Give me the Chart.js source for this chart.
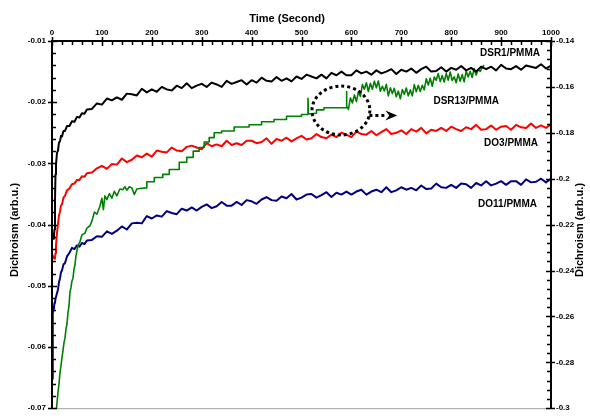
<!DOCTYPE html>
<html>
<head>
<meta charset="utf-8">
<script src="https://cdn.jsdelivr.net/npm/chart.js@4"></script>
<style>body{margin:0;background:#fff}</style>
</head>
<body>
<canvas id="chart" width="590" height="419"></canvas>
<script>
// time (s) shared by DSR1, DO3 and DO11
var seconds = [0, 1, 2, 3, 4, 5, 6, 7, 8, 10, 12, 14, 16, 18, 20, 23, 26, 30, 35, 40, 45, 50, 55, 60, 65, 70, 80, 90,
  100, 110, 120, 130, 140, 150, 160, 170, 180, 190, 200, 210, 220, 230, 240, 250, 260, 270, 280, 290,
  300, 310, 320, 330, 340, 350, 360, 370, 380, 390, 400, 410, 420, 430, 440, 450, 460, 470, 480, 490,
  500, 510, 520, 530, 540, 550, 560, 570, 580, 590, 600, 610, 620, 630, 640, 650, 660, 670, 680, 690,
  700, 710, 720, 730, 740, 750, 760, 770, 780, 790, 800, 810, 820, 830, 840, 850, 860, 870, 880, 890,
  900, 910, 920, 930, 940, 950, 960, 970, 980, 990, 1000];

// left axis
var dsr1 = [-0.0415, -0.0421, -0.0418, -0.0423, -0.0417, -0.0408, -0.0360, -0.0318, -0.0302, -0.0283, -0.0279, -0.0266, -0.0264, -0.0255,
  -0.0256, -0.0247, -0.0247, -0.0239, -0.0239, -0.0231, -0.0232, -0.0224, -0.0225, -0.0218, -0.0219, -0.0212, -0.0211, -0.0202,
  -0.0204, -0.0194, -0.0197, -0.0192, -0.0196, -0.0186, -0.0187, -0.0189, -0.0178, -0.0184,
  -0.0179, -0.0183, -0.0175, -0.0179, -0.0181, -0.0173, -0.0177, -0.0169, -0.0177, -0.0173,
  -0.0170, -0.0175, -0.0168, -0.0171, -0.0175, -0.0165, -0.0170, -0.0167, -0.0164, -0.0171,
  -0.0164, -0.0168, -0.0160, -0.0165, -0.0166, -0.0159, -0.0165, -0.0161, -0.0166, -0.0158,
  -0.0162, -0.0155, -0.0158, -0.0161, -0.0155, -0.0161, -0.0152, -0.0156, -0.0150, -0.0156,
  -0.0156, -0.0148, -0.0153, -0.0150, -0.0155, -0.0148, -0.0153, -0.0150, -0.0146, -0.0154,
  -0.0147, -0.0150, -0.0145, -0.0152, -0.0146, -0.0142, -0.0150, -0.0149, -0.0143, -0.0150,
  -0.0144, -0.0147, -0.0141, -0.0148, -0.0144, -0.0150, -0.0142, -0.0146, -0.0142, -0.0148,
  -0.0139, -0.0145, -0.0146, -0.0141, -0.0147, -0.0140, -0.0142, -0.0144, -0.0138, -0.0145, -0.0140];

var do3 = [-0.0450, -0.0452, -0.0451, -0.0454, -0.0453, -0.0456, -0.0455, -0.0447, -0.0434, -0.0414, -0.0399, -0.0385, -0.0379, -0.0369,
  -0.0367, -0.0356, -0.0353, -0.0344, -0.0341, -0.0334, -0.0333, -0.0327, -0.0327, -0.0321, -0.0322, -0.0316, -0.0315, -0.0308,
  -0.0304, -0.0309, -0.0301, -0.0302, -0.0292, -0.0298, -0.0294, -0.0287, -0.0290, -0.0284,
  -0.0289, -0.0279, -0.0281, -0.0282, -0.0274, -0.0279, -0.0280, -0.0273, -0.0271, -0.0274,
  -0.0277, -0.0267, -0.0272, -0.0269, -0.0272, -0.0263, -0.0270, -0.0267, -0.0270, -0.0263,
  -0.0263, -0.0267, -0.0265, -0.0259, -0.0268, -0.0260, -0.0263, -0.0258, -0.0264, -0.0259,
  -0.0255, -0.0261, -0.0259, -0.0252, -0.0257, -0.0259, -0.0253, -0.0257, -0.0250, -0.0253,
  -0.0257, -0.0248, -0.0252, -0.0253, -0.0247, -0.0254, -0.0249, -0.0244, -0.0252, -0.0250,
  -0.0246, -0.0252, -0.0244, -0.0248, -0.0242, -0.0251, -0.0245, -0.0247, -0.0242, -0.0247,
  -0.0240, -0.0244, -0.0247, -0.0241, -0.0244, -0.0237, -0.0245, -0.0244, -0.0238, -0.0245,
  -0.0240, -0.0239, -0.0245, -0.0237, -0.0241, -0.0242, -0.0235, -0.0242, -0.0238, -0.0242, -0.0236];

var do11 = [-0.0652, -0.0598, -0.0546, -0.0537, -0.0535, -0.0528, -0.0527, -0.0521, -0.0521, -0.0512, -0.0506, -0.0494, -0.0488, -0.0478,
  -0.0475, -0.0465, -0.0463, -0.0452, -0.0446, -0.0438, -0.0440, -0.0434, -0.0436, -0.0430, -0.0432, -0.0426, -0.0425, -0.0419,
  -0.0420, -0.0411, -0.0415, -0.0410, -0.0403, -0.0408, -0.0398, -0.0397, -0.0398, -0.0386,
  -0.0390, -0.0385, -0.0387, -0.0378, -0.0381, -0.0383, -0.0374, -0.0377, -0.0372, -0.0377,
  -0.0371, -0.0367, -0.0373, -0.0370, -0.0363, -0.0369, -0.0369, -0.0363, -0.0368, -0.0360,
  -0.0362, -0.0366, -0.0359, -0.0355, -0.0360, -0.0361, -0.0354, -0.0357, -0.0350, -0.0359,
  -0.0356, -0.0351, -0.0350, -0.0356, -0.0352, -0.0347, -0.0355, -0.0348, -0.0351, -0.0346,
  -0.0351, -0.0346, -0.0343, -0.0351, -0.0346, -0.0343, -0.0347, -0.0339, -0.0347, -0.0344,
  -0.0339, -0.0343, -0.0340, -0.0344, -0.0336, -0.0342, -0.0341, -0.0333, -0.0339, -0.0340,
  -0.0335, -0.0340, -0.0333, -0.0334, -0.0340, -0.0332, -0.0336, -0.0329, -0.0336, -0.0333,
  -0.0329, -0.0335, -0.0329, -0.0329, -0.0335, -0.0326, -0.0331, -0.0330, -0.0325, -0.0331, -0.0325];

// right axis
var dsr13Time = [9, 12, 14, 16, 18, 20, 22, 24, 26, 28, 30, 32, 34, 36, 38, 40, 42, 44, 46, 48, 50, 52, 56, 60, 66, 70, 76, 80, 85, 90, 96,
  100, 103, 106, 110, 115, 120, 125, 130, 136, 142, 146, 150, 155, 160, 165, 170, 176, 190,
  190, 205, 205, 222, 222, 235, 235, 255, 255, 270, 270, 283, 283, 295, 295, 305, 305, 315, 315, 325, 325, 340,
  340, 365, 365, 395, 395, 420, 420, 445, 445, 470, 470, 500, 500, 513, 513, 514, 530, 530, 545, 545, 590, 590, 591,
  594, 598, 602, 606, 610, 614, 618, 622, 626, 630, 634, 638, 642, 646, 650, 654, 658, 662, 666, 670,
  674, 678, 682, 686, 690, 694, 698, 702, 706, 710, 714, 718, 722, 726, 730, 734, 738, 742, 746, 750,
  754, 758, 762, 766, 770, 774, 778, 782, 786, 790, 794, 798, 802, 806, 810, 814, 818, 822, 826, 830,
  834, 838, 842, 846, 850, 854, 858, 862, 866];

var dsr13 = [-0.300, -0.293, -0.2895, -0.2845, -0.2815, -0.278, -0.2749, -0.2715, -0.2695, -0.2655, -0.2632, -0.2585, -0.2555,
  -0.2493, -0.2475, -0.2445, -0.2435, -0.2395, -0.2376, -0.2335, -0.2315, -0.2291, -0.2275, -0.2245, -0.2237, -0.2215, -0.2205,
  -0.2185, -0.2145, -0.2155, -0.212,
  -0.2085, -0.2135, -0.2075, -0.2091, -0.2065, -0.2085, -0.2055, -0.2075, -0.2045, -0.2048, -0.2035, -0.2050, -0.2035, -0.2040,
  -0.2069, -0.2045, -0.2043, -0.2040,
  -0.2013, -0.2013, -0.1995, -0.1995, -0.1981, -0.1981, -0.1960, -0.1960, -0.1928, -0.1928, -0.1907, -0.1907, -0.1880, -0.1880,
  -0.1864, -0.1864, -0.1840, -0.1840, -0.1821, -0.1821, -0.1800, -0.1800,
  -0.1792, -0.1792, -0.1775, -0.1775, -0.1765, -0.1765, -0.1752, -0.1752, -0.1742, -0.1742, -0.1728, -0.1728, -0.1720, -0.1720,
  -0.1650, -0.1718, -0.1715, -0.1700, -0.1700, -0.1691, -0.1691, -0.1620, -0.1685,
  -0.1698, -0.1648, -0.1670, -0.1635, -0.1664, -0.1622, -0.1642, -0.1590, -0.1610, -0.1582, -0.1620, -0.1584, -0.1610, -0.1575,
  -0.1604, -0.1574, -0.1619, -0.1597, -0.1618, -0.1589,
  -0.1639, -0.1604, -0.1629, -0.1606, -0.1643, -0.1618, -0.1652, -0.1612, -0.1632, -0.1605, -0.1639, -0.1613, -0.1639, -0.1590,
  -0.1621, -0.1593, -0.1620, -0.1593, -0.1613, -0.1565,
  -0.1592, -0.1562, -0.1597, -0.1557, -0.1571, -0.1542, -0.1577, -0.1550, -0.1579, -0.1542, -0.1571, -0.1535, -0.1572, -0.1556,
  -0.1582, -0.1544, -0.1575, -0.1546, -0.1578, -0.1531,
  -0.1557, -0.1532, -0.1559, -0.1520, -0.1548, -0.1524, -0.1533, -0.1516, -0.1505];

function points(xs, ys) {
  return xs.map(function (t, i) { return { x: t, y: ys[i] }; });
}

var boldFont = '"Liberation Sans", Arial, sans-serif';

// axes, ticks, titles, labels and the dotted mark
var framePlugin = {
  id: "frame",
  afterDatasetsDraw: function (chart) {
    var ctx = chart.ctx;
    var x = chart.scales.x, y = chart.scales.y;
    ctx.save();

    // dotted ellipse + arrow
    var cx = x.getPixelForValue(579), cy = y.getPixelForValue(-0.02136);
    var rx = x.getPixelForValue(637) - cx, ry = y.getPixelForValue(-0.02536) - cy;
    ctx.strokeStyle = "#000";
    ctx.lineWidth = 3;
    ctx.setLineDash([3, 3]);
    ctx.beginPath();
    ctx.ellipse(cx, cy, rx, ry, 0, 0, Math.PI * 2);
    ctx.stroke();
    var ay = y.getPixelForValue(-0.02216);
    var ax0 = x.getPixelForValue(636), ax1 = x.getPixelForValue(670);
    ctx.beginPath();
    ctx.moveTo(ax0, ay);
    ctx.lineTo(ax1, ay);
    ctx.stroke();
    ctx.setLineDash([]);
    var tip = x.getPixelForValue(692);
    ctx.fillStyle = "#000";
    ctx.beginPath();
    ctx.moveTo(ax1 - 1, ay - 5);
    ctx.lineTo(tip, ay);
    ctx.lineTo(ax1 - 1, ay + 5);
    ctx.lineTo(ax1 + 3, ay);
    ctx.closePath();
    ctx.fill();
    ctx.restore();
  },
  afterDraw: function (chart) {
    var ctx = chart.ctx;
    var a = chart.chartArea;
    var x = chart.scales.x, y = chart.scales.y, y1 = chart.scales.y1;
    ctx.save();

    ctx.strokeStyle = "#a0a0a0";
    ctx.lineWidth = 1;
    ctx.beginPath();
    ctx.moveTo(a.left, a.bottom + 0.5);
    ctx.lineTo(a.right, a.bottom + 0.5);
    ctx.stroke();

    ctx.strokeStyle = "#000";
    ctx.lineWidth = 2;
    ctx.beginPath();
    ctx.moveTo(a.left, a.bottom);
    ctx.lineTo(a.left, a.top);
    ctx.lineTo(a.right, a.top);
    ctx.lineTo(a.right, a.bottom);
    ctx.stroke();

    ctx.lineWidth = 1.5;
    ctx.beginPath();
    var i, p;
    for (i = 0; i <= 50; i++) {
      p = Math.round(x.getPixelForValue(i * 20)) + 0.5;
      ctx.moveTo(p, a.top + (i % 5 === 0 ? -4 : 0));
      ctx.lineTo(p, a.top + (i % 5 === 0 ? 5 : 4));
    }
    for (i = 0; i <= 30; i++) {
      p = Math.round(y.getPixelForValue(-0.07 + i * 0.002)) + 0.5;
      ctx.moveTo(a.left + (i % 5 === 0 ? -4 : 0), p);
      ctx.lineTo(a.left + (i % 5 === 0 ? 5 : 4), p);
    }
    for (i = 0; i <= 40; i++) {
      p = Math.round(y1.getPixelForValue(-0.3 + i * 0.004)) + 0.5;
      ctx.moveTo(a.right + (i % 5 === 0 ? 4 : 0), p);
      ctx.lineTo(a.right - (i % 5 === 0 ? 5 : 4), p);
    }
    ctx.stroke();

    ctx.fillStyle = "#000";
    ctx.font = "bold 11px " + boldFont;
    ctx.textAlign = "center";
    ctx.textBaseline = "middle";
    ctx.fillText("Time (Second)", 287, 19);
    ctx.save();
    ctx.translate(15, 230);
    ctx.rotate(-Math.PI / 2);
    ctx.fillText("Dichroism (arb.u.)", 0, 0);
    ctx.restore();
    ctx.save();
    ctx.translate(580, 230);
    ctx.rotate(-Math.PI / 2);
    ctx.fillText("Dichroism (arb.u.)", 0, 0);
    ctx.restore();

    ctx.font = "bold 10px " + boldFont;
    ctx.textAlign = "right";
    ctx.fillText("DSR1/PMMA", 540, 53);
    ctx.fillText("DSR13/PMMA", 499, 101);
    ctx.fillText("DO3/PMMA", 538, 143);
    ctx.fillText("DO11/PMMA", 537, 204);
    ctx.restore();
  }
};

var tickFont = { family: boldFont, size: 8, weight: "bold" };

var ctx = document.getElementById("chart").getContext("2d");
var myChart = new Chart(ctx, {
  type: "line",
  data: {
    datasets: [
      { label: "DSR1/PMMA", data: points(seconds, dsr1), borderColor: "#000000", borderWidth: 2, yAxisID: "y" },
      { label: "DSR13/PMMA", data: points(dsr13Time, dsr13), borderColor: "#008000", borderWidth: 1.6, yAxisID: "y1" },
      { label: "DO3/PMMA", data: points(seconds, do3), borderColor: "#ff0000", borderWidth: 2, yAxisID: "y" },
      { label: "DO11/PMMA", data: points(seconds, do11), borderColor: "#000080", borderWidth: 2, yAxisID: "y" }
    ]
  },
  options: {
    responsive: false,
    animation: false,
    layout: { padding: { top: 0, left: 0, right: 0, bottom: 3 } },
    elements: {
      point: { radius: 0 },
      line: { tension: 0, fill: false, borderJoinStyle: "round" }
    },
    plugins: { legend: { display: false }, tooltip: { enabled: false } },
    scales: {
      x: {
        type: "linear", position: "top", min: 0, max: 1000,
        grid: { display: false, drawTicks: false }, border: { display: false },
        ticks: {
          stepSize: 100, color: "#000", font: tickFont, padding: 3, maxRotation: 0,
          callback: function (v) { return String(v); }
        },
        afterFit: function (s) { s.height = 41; }
      },
      y: {
        position: "left", min: -0.07, max: -0.01,
        grid: { display: false, drawTicks: false }, border: { display: false },
        ticks: {
          stepSize: 0.01, color: "#000", font: tickFont, padding: 6,
          callback: function (v) { return String(+v.toFixed(2)); }
        },
        afterFit: function (s) { s.width = 52; }
      },
      y1: {
        position: "right", min: -0.3, max: -0.14,
        grid: { display: false, drawTicks: false }, border: { display: false },
        ticks: {
          stepSize: 0.02, color: "#000", font: tickFont, padding: 5,
          callback: function (v) { return String(+v.toFixed(2)); }
        },
        afterFit: function (s) { s.width = 39; }
      }
    }
  },
  plugins: [framePlugin]
});
</script>
</body>
</html>
